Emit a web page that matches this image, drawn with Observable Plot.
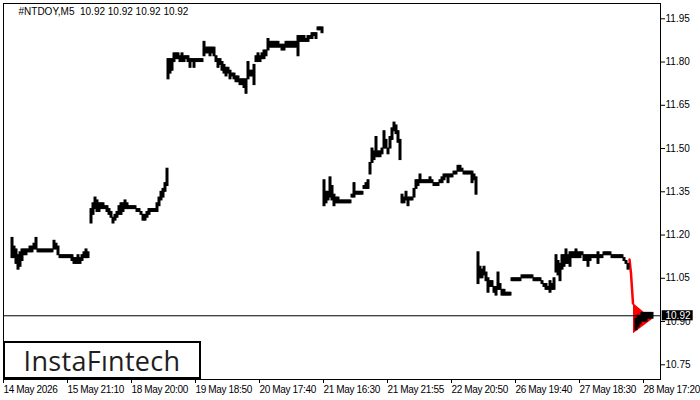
<!DOCTYPE html>
<html><head><meta charset="utf-8">
<script src="https://cdn.jsdelivr.net/npm/d3@7"></script>
<script src="https://cdn.jsdelivr.net/npm/@observablehq/plot@0.6"></script>
<style>
body{margin:0;background:#fff;}
#wrap{position:relative;width:700px;height:400px;overflow:hidden;}
#logo{position:absolute;left:3px;top:341px;width:198px;height:38px;box-sizing:border-box;border:2px solid #000;background:#fff;display:flex;align-items:center;justify-content:center;font-family:'Open Sans',sans-serif;font-weight:500;font-size:27px;color:#1e1e1e;letter-spacing:0.3px;padding-top:1px;}
#chart svg g[aria-label="x-axis tick label"] text{letter-spacing:-0.35px;}
</style></head><body>
<div id="wrap"><div id="chart"></div><div id="logo">InstaFıntech</div></div>
<script>
// ---- data (bar index, 2-bar buckets; prices) ----
const title = "#NTDOY,M5\u00a0\u00a010.92 10.92 10.92 10.92";
const lastPrice = 10.92;
const xTickBars = [0,64,128,192,256,320,384,448,512,576,640];
const xTickLabels = ["14 May 2026","15 May 21:10","18 May 20:00","19 May 18:50","20 May 17:40","21 May 16:30","21 May 21:55","22 May 20:50","26 May 19:40","27 May 18:30","28 May 17:20"];
const yTicks = [10.75,10.90,11.05,11.20,11.35,11.50,11.65,11.80,11.95];

const seg1Start = 8;
const seg1Hi = [11.19,11.16,11.15,11.13,11.14,11.15,11.15,11.15,11.15,11.16,11.16,11.17,11.19,11.15,11.15,11.15,11.15,11.15,11.15,11.15,11.15,11.18,11.17,11.16,11.13,11.13,11.13,11.13,11.13,11.13,11.13,11.12,11.12,11.13,11.12,11.13,11.14,11.15,11.14];
const seg1Lo = [11.12,11.12,11.10,11.08,11.09,11.11,11.13,11.13,11.14,11.14,11.14,11.15,11.15,11.14,11.14,11.14,11.14,11.14,11.14,11.14,11.14,11.15,11.15,11.13,11.12,11.12,11.12,11.12,11.12,11.12,11.11,11.10,11.10,11.10,11.10,11.11,11.12,11.12,11.12];

const seg2Start = 87;
const seg2Hi = [11.29,11.31,11.33,11.32,11.31,11.31,11.31,11.30,11.30,11.29,11.28,11.26,11.27,11.28,11.30,11.31,11.31,11.32,11.31,11.30,11.30,11.30,11.30,11.29,11.29,11.28,11.27,11.27,11.28,11.29,11.29,11.29,11.29,11.31,11.33,11.35,11.36,11.38,11.43];
const seg2Lo = [11.24,11.27,11.29,11.28,11.28,11.29,11.29,11.29,11.28,11.27,11.26,11.24,11.25,11.26,11.27,11.27,11.28,11.29,11.29,11.29,11.29,11.29,11.29,11.28,11.28,11.27,11.25,11.25,11.26,11.27,11.28,11.28,11.28,11.28,11.30,11.32,11.33,11.35,11.37];

const seg3Start = 164;
const seg3Hi = [11.81,11.81,11.81,11.83,11.83,11.83,11.82,11.83,11.82,11.82,11.82,11.81,11.81,11.81,11.81,11.81,11.81,11.81,11.87,11.85,11.85,11.85,11.85,11.85,11.82,11.81,11.81,11.80,11.79,11.78,11.78,11.77,11.76,11.76,11.75,11.75,11.74,11.74,11.74,11.74,11.80,11.77,11.77,11.79,11.82,11.83,11.82,11.83,11.84,11.84,11.88,11.87,11.87,11.87,11.87,11.87,11.86,11.86,11.86,11.87,11.87,11.87,11.87,11.87,11.87,11.89,11.89,11.89,11.89,11.88,11.89,11.89,11.90,11.90,11.90,11.92,11.92,11.92];
const seg3Lo = [11.74,11.76,11.77,11.80,11.81,11.81,11.80,11.80,11.80,11.81,11.80,11.78,11.80,11.78,11.80,11.80,11.80,11.80,11.82,11.83,11.83,11.82,11.83,11.82,11.80,11.78,11.79,11.77,11.76,11.75,11.76,11.74,11.75,11.74,11.73,11.73,11.72,11.72,11.71,11.69,11.74,11.75,11.75,11.72,11.80,11.80,11.80,11.81,11.81,11.82,11.84,11.85,11.85,11.85,11.85,11.85,11.85,11.84,11.84,11.85,11.85,11.85,11.85,11.85,11.85,11.82,11.87,11.87,11.87,11.87,11.87,11.88,11.88,11.89,11.88,11.91,11.91,11.90];

const seg4Start = 320;
const seg4Hi = [11.39,11.35,11.35,11.40,11.37,11.34,11.33,11.33,11.32,11.32,11.32,11.32,11.32,11.32,11.34,11.38,11.35,11.35,11.35,11.35,11.37,11.38,11.39,11.45,11.50,11.49,11.54,11.49,11.49,11.50,11.56,11.53,11.50,11.54,11.57,11.59,11.58,11.56,11.53];
const seg4Lo = [11.30,11.31,11.32,11.33,11.32,11.30,11.31,11.31,11.31,11.31,11.31,11.31,11.31,11.31,11.33,11.33,11.34,11.34,11.34,11.34,11.36,11.36,11.36,11.41,11.45,11.46,11.47,11.47,11.47,11.48,11.50,11.50,11.48,11.50,11.53,11.56,11.55,11.52,11.46];

const seg5Start = 398;
const seg5Hi = [11.34,11.33,11.35,11.33,11.33,11.33,11.36,11.39,11.39,11.41,11.39,11.39,11.39,11.39,11.40,11.39,11.38,11.38,11.38,11.39,11.40,11.41,11.41,11.41,11.41,11.41,11.42,11.42,11.44,11.44,11.43,11.42,11.42,11.42,11.42,11.42,11.41,11.40];
const seg5Lo = [11.31,11.31,11.32,11.30,11.32,11.32,11.33,11.36,11.37,11.38,11.38,11.38,11.38,11.38,11.38,11.38,11.37,11.37,11.37,11.38,11.38,11.39,11.40,11.38,11.40,11.40,11.41,11.41,11.42,11.42,11.42,11.41,11.41,11.41,11.41,11.38,11.39,11.34];

const seg6Start = 474;
const seg6Hi = [11.14,11.09,11.08,11.09,11.07,11.05,11.04,11.04,11.02,11.02,11.07,11.03,11.01,11.01,11.00,11.00,11.00,11.05,11.05,11.05,11.05,11.05,11.06,11.06,11.06,11.06,11.06,11.06,11.05,11.05,11.05,11.05,11.04,11.03,11.03,11.02,11.04,11.03,11.05,11.13,11.11,11.10,11.13,11.13,11.15,11.13,11.14,11.14,11.14,11.15,11.14,11.14,11.14,11.13,11.13,11.13,11.13,11.13,11.13,11.13,11.14,11.13,11.13,11.14,11.14,11.14,11.14,11.13,11.13,11.13,11.13,11.13,11.13,11.12,11.11,11.10];
const seg6Lo = [11.03,11.05,11.05,11.06,11.04,11.00,11.02,11.02,11.00,10.99,11.01,11.01,10.99,10.99,10.99,10.99,10.99,11.04,11.04,11.04,11.04,11.04,11.05,11.05,11.05,11.05,11.05,11.05,11.04,11.04,11.04,11.04,11.03,11.02,11.01,11.01,11.00,11.01,11.01,11.07,11.06,11.04,11.08,11.09,11.10,11.10,11.09,11.12,11.12,11.12,11.12,11.12,11.13,11.11,11.11,11.09,11.11,11.12,11.12,11.12,11.10,11.12,11.12,11.13,11.13,11.13,11.13,11.12,11.12,11.12,11.12,11.12,11.12,11.11,11.10,11.08];

const seg7Start = 632;
const seg7Hi = [10.91,10.92,10.92,10.93,10.93,10.93,10.93,10.93,10.93];
const seg7Lo = [10.87,10.88,10.89,10.90,10.90,10.90,10.91,10.91,10.91];

// pattern overlay (flagpole + pennant)
const poleBars = [626,627.5,629.5];
const polePrices = [11.115,11.067,10.963];
const pennantBars = [630,649];
const pennantLo = [10.858,10.907];
const pennantHi = [10.963,10.907];

const xDomain = [0,657];
const yDomain = [10.699,12.003];

// ---- build tables ----
const segs = [
  [seg1Start,seg1Hi,seg1Lo],[seg2Start,seg2Hi,seg2Lo],[seg3Start,seg3Hi,seg3Lo],
  [seg4Start,seg4Hi,seg4Lo],[seg5Start,seg5Hi,seg5Lo],[seg6Start,seg6Hi,seg6Lo],[seg7Start,seg7Hi,seg7Lo]
];
const bars = [];
for (const [s,hi,lo] of segs) hi.forEach((h,k)=>bars.push({i:s+2*k, hi:h, lo:lo[k]}));
const pole = poleBars.map((b,k)=>({i:b, p:polePrices[k]}));
const pennant = pennantBars.map((b,k)=>({i:b, lo:pennantLo[k], hi:pennantHi[k]}));
const xMax = xDomain[1];

const chart = Plot.plot({
  width:700, height:400,
  marginLeft:3, marginRight:40, marginTop:3, marginBottom:21,
  style:{fontFamily:"'Liberation Sans', Arial, sans-serif", fontSize:"10px", color:"#000", background:"#fff"},
  x:{domain:xDomain},
  y:{domain:yDomain},
  marks:[
    Plot.axisX({ticks:xTickBars, tickFormat:d=>xTickLabels[xTickBars.indexOf(d)], tickSize:4, tickPadding:2, textAnchor:"start", label:null, fill:"#000", stroke:"#000"}),
    Plot.axisY({anchor:"right", ticks:yTicks, tickSize:4, tickPadding:1, tickFormat:d=>d.toFixed(2), label:null, fill:"#000", stroke:"#000"}),
    Plot.areaY(pennant, {x:"i", y1:"lo", y2:"hi", fill:"#ff0000"}),
    Plot.line(pole, {x:"i", y:"p", stroke:"#ff0000", strokeWidth:2.5}),
    Plot.rect(bars, {x1:"i", x2:d=>d.i+2, y1:"lo", y2:"hi", fill:"#000", stroke:"#000", strokeWidth:1}),
    Plot.ruleY([lastPrice], {stroke:"#000", strokeWidth:1}),
    Plot.rect([lastPrice], {x1:d=>xMax+1.7, x2:d=>xMax+32.7, y1:d=>d-0.0175, y2:d=>d+0.0175, fill:"#000"}),
    Plot.text([lastPrice], {x:d=>xMax+5, y:d=>d, text:d=>d.toFixed(2), fill:"#fff", textAnchor:"start", fontSize:10}),
    Plot.text([title], {text:d=>d, frameAnchor:"top-left", dx:15, dy:8, textAnchor:"start", lineAnchor:"middle", fill:"#000", fontSize:10}),
    Plot.frame({stroke:"#000"})
  ]
});
document.getElementById("chart").appendChild(chart);
</script>
</body></html>
